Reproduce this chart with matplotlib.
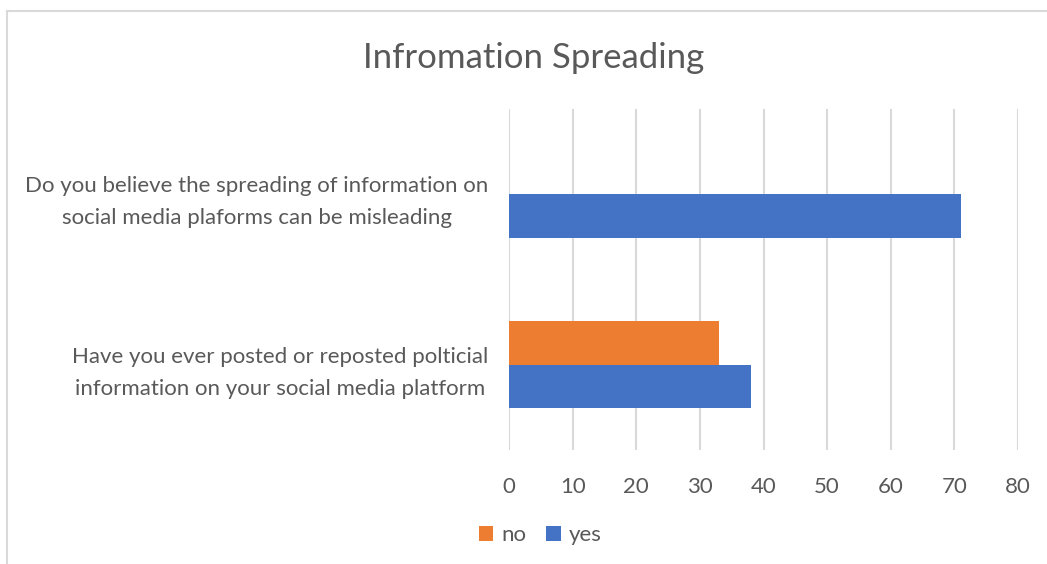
import matplotlib
matplotlib.use('Agg')

import matplotlib.pyplot as plt
import numpy as np
from matplotlib.lines import Line2D

# Survey answers (bottom category first)
questions = [
    'Have you ever posted or reposted polticial\ninformation on your social media platform',
    'Do you believe the spreading of information on\nsocial media plaforms can be misleading',
]
no_counts = [33, 0]
yes_counts = [38, 71]
x_ticks = [0, 10, 20, 30, 40, 50, 60, 70, 80]

text_color = '#595959'
grid_color = '#D9D9D9'
plt.rcParams['font.family'] = ['Lato', 'DejaVu Sans']

fig = plt.figure(figsize=(10.47, 5.64), dpi=100)
ax = fig.add_axes([0.4862, 0.2027, 0.4861, 0.604])

pos = np.arange(len(questions))
bar_h = 0.258
ax.barh(pos + bar_h / 2, no_counts, height=bar_h, color='#ED7D31', label='no', zorder=3)
ax.barh(pos - bar_h / 2, yes_counts, height=bar_h, color='#4472C4', label='yes', zorder=3)

ax.set_xlim(0, 80)
ax.set_ylim(-0.5, 1.5)
ax.set_xticks(x_ticks)
ax.set_yticks(pos)
ax.set_yticklabels(questions, multialignment='center', linespacing=1.75)
ax.tick_params(axis='both', length=0, colors=text_color, labelsize=16)
ax.tick_params(axis='x', pad=20)
ax.tick_params(axis='y', pad=15)
ax.grid(axis='x', color=grid_color, linewidth=1.5, zorder=0)
for s in ax.spines.values():
    s.set_visible(False)

fig.text(0.51, 0.897, 'Infromation Spreading', ha='center', va='center',
         fontsize=25, color=text_color)

ax.legend(loc='center', bbox_to_anchor=(540 / 1047, 1 - 535 / 564),
          bbox_transform=fig.transFigure, ncol=2, frameon=False,
          fontsize=16, labelcolor=text_color, handlelength=0.65, handleheight=0.65,
          handletextpad=0.35, columnspacing=0.9)

# light frame around the chart area
fx = 7 / 1047
fy = 1 - 10.5 / 564
fig.add_artist(Line2D([fx, fx], [0, fy], transform=fig.transFigure, color=grid_color, lw=1.5))
fig.add_artist(Line2D([fx, 1], [fy, fy], transform=fig.transFigure, color=grid_color, lw=1.5))

fig.savefig('out.png', dpi=100, facecolor='white')
